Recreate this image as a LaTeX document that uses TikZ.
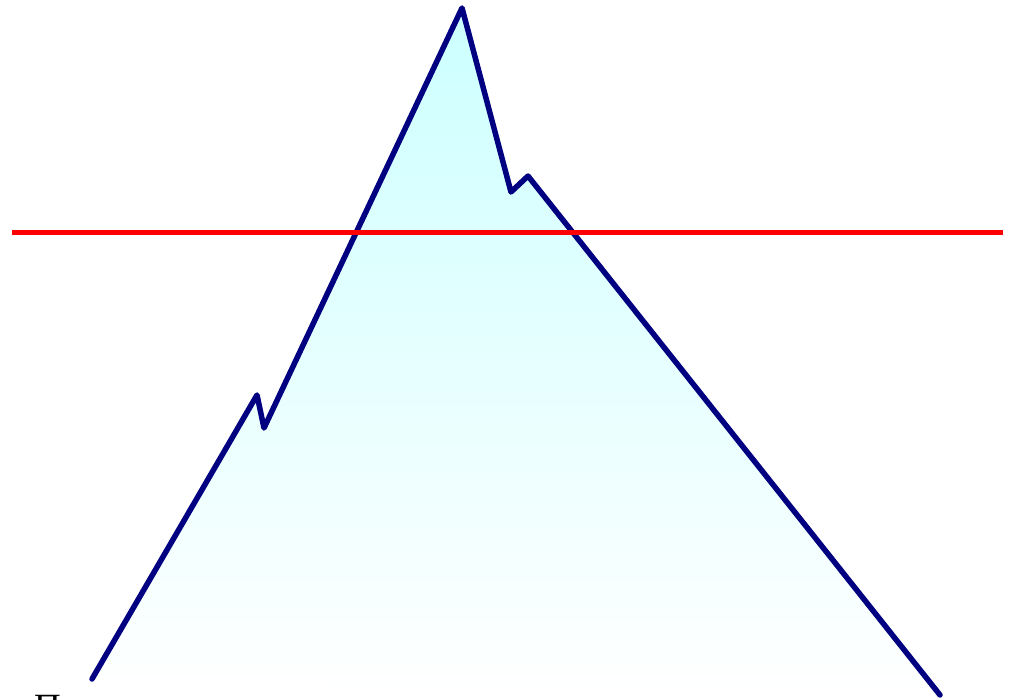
\documentclass[tikz,border=0pt]{standalone}
\usepackage{fontspec}
\newfontfamily\cyrserif{Liberation Serif}
\definecolor{mtnline}{RGB}{0,0,128}
\definecolor{icetop}{RGB}{204,255,255}
\tikzset{
  mtn/.style={draw=mtnline, line width=5.5pt, line join=round, line cap=round},
  waterline/.style={draw=red, line width=5pt},
}
\begin{document}
\begin{tikzpicture}[x=1pt,y=-1pt]
\useasboundingbox (0,0) rectangle (1014,699);
% fill
\shade[top color=icetop, bottom color=white]
  (92,679) -- (257,395) -- (264,428) -- (462,8) -- (511,192) -- (528,176) -- (940,695) -- cycle;
% outline
\draw[mtn] (92,679) -- (257,395) -- (264,428) -- (462,8) -- (511,192) -- (528,176) -- (940,695);
% red line
\draw[waterline] (12,232) -- (1003,232);
% clipped text
\node[anchor=base west, inner sep=0pt, font=\cyrserif\fontsize{37}{44}\selectfont] (lbl) at (34,719) {П};
\end{tikzpicture}
\end{document}
